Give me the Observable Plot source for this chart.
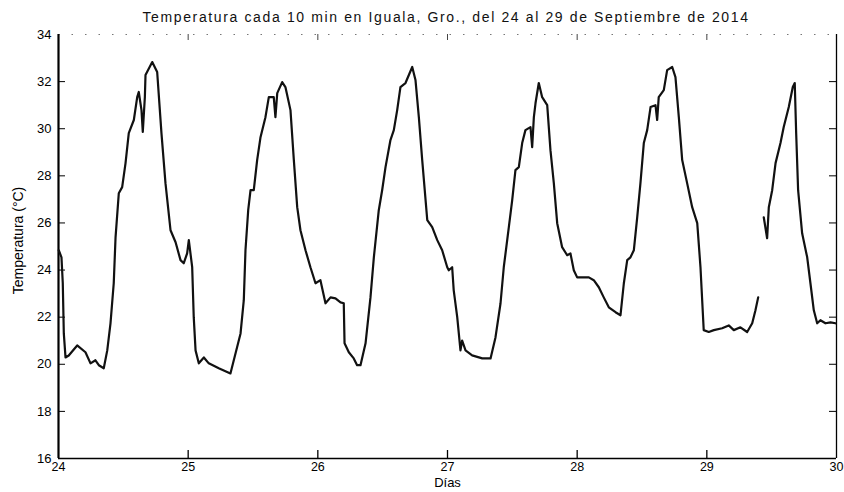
<!DOCTYPE html>
<html><head><meta charset="utf-8">
<script src="https://cdn.jsdelivr.net/npm/d3@7"></script>
<script src="https://cdn.jsdelivr.net/npm/@observablehq/plot@0.6"></script>
<style>
body{margin:0;background:#fff;}
#title{width:844px;height:28px;line-height:34px;box-sizing:border-box;padding-left:48px;text-align:center;font-family:"Liberation Sans",Arial,sans-serif;font-size:14px;letter-spacing:1.63px;color:#111;white-space:nowrap;}
</style></head><body>
<div id="title"></div>
<div id="chart"></div>
<script>
const titleText = "Temperatura cada 10 min en Iguala, Gro., del 24 al 29 de Septiembre de 2014";
const xLabel = "Días";
const yLabel = "Temperatura (°C)";
const xTicks = [24, 25, 26, 27, 28, 29, 30];
const yTicks = [16, 18, 20, 22, 24, 26, 28, 30, 32, 34];
const xDomain = [24, 30];
const yDomain = [16, 34];

// day of September (fractional)
const days = [
 24.002,24.023,24.033,24.041,24.054,24.079,24.144,24.208,24.247,24.285,24.311,24.349,24.376,24.401,24.426,24.440,24.465,24.491,24.517,24.542,
 24.581,24.607,24.619,24.640,24.650,24.666,24.671,24.723,24.761,24.794,24.825,24.864,24.903,24.941,24.966,24.992,25.005,25.031,25.043,25.057,
 25.082,25.121,25.159,25.236,25.326,25.365,25.404,25.429,25.442,25.463,25.481,25.506,25.532,25.558,25.596,25.622,25.660,25.673,25.687,25.725,
 25.750,25.789,25.815,25.841,25.866,25.905,25.943,25.982,26.020,26.059,26.098,26.136,26.175,26.200,26.206,26.239,26.277,26.303,26.329,26.368,
 26.406,26.432,26.470,26.496,26.522,26.560,26.586,26.612,26.637,26.676,26.728,26.753,26.779,26.805,26.844,26.882,26.921,26.959,26.998,27.010,
 27.036,27.048,27.075,27.100,27.113,27.139,27.190,27.268,27.332,27.370,27.409,27.434,27.473,27.499,27.524,27.550,27.576,27.601,27.640,27.653,
 27.666,27.679,27.704,27.730,27.769,27.794,27.820,27.846,27.884,27.923,27.948,27.974,28.000,28.039,28.090,28.128,28.167,28.205,28.244,28.296,
 28.334,28.360,28.386,28.411,28.437,28.463,28.488,28.514,28.540,28.566,28.604,28.617,28.629,28.668,28.694,28.733,28.758,28.784,28.810,28.848,
 28.887,28.926,28.951,28.976,29.015,29.054,29.118,29.169,29.208,29.259,29.311,29.350,29.375,29.396,29.418,29.439,29.465,29.478,29.504,29.530,
 29.568,29.593,29.632,29.663,29.678,29.689,29.704,29.735,29.774,29.799,29.825,29.851,29.876,29.915,29.954,29.992
];
// temperature (°C); null = gap in the record
const temps = [
 24.84,24.54,23.44,21.31,20.29,20.37,20.80,20.51,20.04,20.17,19.96,19.83,20.59,21.74,23.44,25.39,27.26,27.52,28.54,29.81,
 30.37,31.34,31.56,30.79,29.86,31.34,32.28,32.83,32.41,29.81,27.69,25.69,25.18,24.42,24.29,24.71,25.27,24.12,22.00,20.59,
 20.04,20.29,20.04,19.83,19.61,20.46,21.31,22.72,24.84,26.54,27.39,27.39,28.67,29.64,30.49,31.34,31.34,30.49,31.51,31.98,
 31.77,30.79,28.67,26.67,25.69,24.84,24.12,23.44,23.57,22.59,22.84,22.80,22.63,22.59,20.89,20.51,20.25,19.96,19.96,20.89,
 22.84,24.54,26.54,27.39,28.37,29.52,29.94,30.79,31.77,31.94,32.62,32.07,30.49,28.67,26.12,25.82,25.27,24.84,24.12,23.99,
 24.12,23.14,22.00,20.59,21.01,20.59,20.38,20.25,20.25,21.14,22.59,24.12,25.82,26.97,28.24,28.37,29.39,29.94,30.07,29.22,
 30.49,31.09,31.94,31.34,31.00,29.09,27.69,25.99,24.97,24.63,24.71,23.99,23.69,23.69,23.69,23.57,23.27,22.84,22.42,22.21,
 22.08,23.44,24.42,24.54,24.84,26.24,27.69,29.39,29.94,30.92,31.00,30.37,31.34,31.64,32.49,32.62,32.19,30.49,28.67,27.69,
 26.67,25.99,24.12,21.45,21.37,21.45,21.53,21.65,21.45,21.57,21.37,21.74,22.29,22.84,null,26.24,25.35,26.67,27.39,28.54,
 29.39,30.07,30.92,31.77,31.94,29.81,27.39,25.56,24.54,23.44,22.29,21.74,21.87,21.74,21.78,21.74
];

document.getElementById("title").textContent = titleText;
const data = days.map((d, i) => ({day: d, temp: temps[i]}));

const W = 844, H = 464, mL = 58, mR = 8, mT = 6, mB = 34;
const fw = W - mL - mR, fh = H - mT - mB;
const font = "'Liberation Sans', Arial, sans-serif";

const chart = Plot.plot({
  width: W, height: H,
  marginLeft: mL, marginRight: mR, marginTop: mT, marginBottom: mB,
  style: {fontFamily: font, fontSize: "12px", color: "#000", background: "#fff", overflow: "visible"},
  x: {domain: xDomain},
  y: {domain: yDomain},
  marks: [
    Plot.axisX({ticks: xTicks, tickSize: 0, tickPadding: 4, label: null, fontSize: 12.5, tickFormat: d => String(d)}),
    Plot.axisY({ticks: yTicks, tickSize: 0, tickPadding: 7, label: null, fontSize: 13, tickFormat: d => String(d)}),
    Plot.tickX(xTicks.slice(1, -1), {x: d => d, insetTop: fh - 8, stroke: "#000", strokeWidth: 1.3}),
    Plot.tickX(xTicks.slice(1, -1), {x: d => d, insetBottom: fh - 6, stroke: "#444", strokeWidth: 1}),
    Plot.tickY(yTicks.slice(1, -1), {y: d => d, insetRight: fw - 7, stroke: "#000", strokeWidth: 1}),
    Plot.tickY(yTicks.slice(1, -1), {y: d => d, insetLeft: fw - 7, stroke: "#000", strokeWidth: 1}),
    Plot.ruleY([yDomain[1]], {stroke: "#777", strokeDasharray: "1.5,12"}),
    Plot.ruleX([xDomain[0]], {stroke: "#000", strokeWidth: 2.2}),
    Plot.ruleX([xDomain[1]], {stroke: "#000", strokeWidth: 1.3}),
    Plot.ruleY([yDomain[0]], {stroke: "#000", strokeWidth: 1.6}),
    Plot.line(data, {x: "day", y: "temp", stroke: "#111", strokeWidth: 2.2, curve: "linear"}),
    Plot.text([xLabel], {frameAnchor: "bottom", dy: 28, text: d => d, fontSize: 13, textAnchor: "middle"}),
    Plot.text([yLabel], {frameAnchor: "left", dx: -40, dy: -6, rotate: -90, text: d => d, fontSize: 14, textAnchor: "middle", letterSpacing: 0.3})
  ]
});
document.getElementById("chart").appendChild(chart);
</script>
</body></html>
